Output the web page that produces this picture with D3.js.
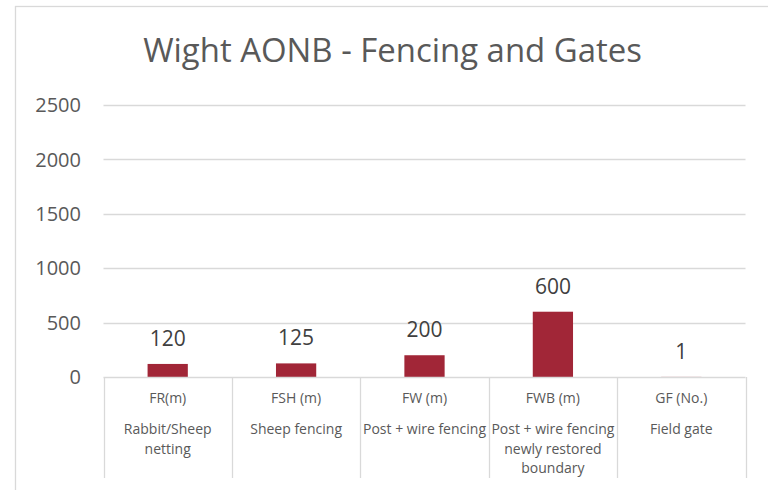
<!DOCTYPE html>
<html><head><meta charset="utf-8">
<script src="https://cdn.jsdelivr.net/npm/d3@7"></script>
<style>body{margin:0;background:#fff}svg{display:block}text{font-family:"Open Sans",sans-serif}</style>
</head><body><svg id="c" width="768" height="490"></svg>
<script>
const title = "Wight AONB - Fencing and Gates";
const codes = ["FR(m)", "FSH (m)", "FW (m)", "FWB (m)", "GF (No.)"];
const descriptions = [
  ["Rabbit/Sheep", "netting"],
  ["Sheep fencing"],
  ["Post + wire fencing"],
  ["Post + wire fencing", "newly restored", "boundary"],
  ["Field gate"]
];
const values = [120, 125, 200, 600, 1];
const yTicks = [0, 500, 1000, 1500, 2000, 2500];

const svg = d3.select("#c");
const grey = "#d9d9d9";
svg.append("rect").attr("x", 15.5).attr("y", 6.5).attr("width", 800).attr("height", 600)
  .attr("fill", "none").attr("stroke", grey).attr("stroke-width", 1.3);

const x = d3.scaleBand().domain(codes).range([103.5, 745.5]).paddingInner(0).paddingOuter(0);
const y = d3.scaleLinear().domain([0, 2500]).range([377, 105]);

const t = svg.append("text").attr("x", 392.5).attr("y", 62).attr("text-anchor", "middle")
  .attr("fill", "#595959").attr("font-size", 30).text(title);
const tw = t.node().getComputedTextLength();
t.attr("font-size", 30 * 499 / tw);

svg.append("g").selectAll("line").data(yTicks.slice(1)).join("line")
  .attr("x1", x.range()[0]).attr("x2", x.range()[1])
  .attr("y1", d => Math.round(y(d)) + 0.5).attr("y2", d => Math.round(y(d)) + 0.5)
  .attr("stroke", grey).attr("stroke-width", 1.3);

svg.append("g").selectAll("text").data(yTicks).join("text")
  .attr("x", 81).attr("y", d => y(d)).attr("dy", "0.36em").attr("text-anchor", "end")
  .attr("fill", "#595959").attr("font-size", 20).text(d => d);

const barW = x.bandwidth() / (1 + 2.19);
svg.append("g").selectAll("rect").data(values).join("rect")
  .attr("x", (d, i) => x(codes[i]) + (x.bandwidth() - barW) / 2)
  .attr("width", barW)
  .attr("y", d => y(d)).attr("height", d => y(0) - y(d))
  .attr("fill", "#a12637");

svg.append("g").selectAll("text").data(values).join("text")
  .attr("x", (d, i) => x(codes[i]) + x.bandwidth() / 2)
  .attr("y", d => y(d) - 18).attr("text-anchor", "middle")
  .attr("fill", "#404040").attr("font-size", 21).text(d => d);

svg.append("line").attr("x1", x.range()[0]).attr("x2", x.range()[1])
  .attr("y1", 377.5).attr("y2", 377.5).attr("stroke", grey).attr("stroke-width", 1.3);
const bounds = codes.map(c => x(c)).concat([x.range()[1]]);
svg.append("g").selectAll("line").data(bounds).join("line")
  .attr("x1", d => Math.round(d) + 0.5).attr("x2", d => Math.round(d) + 0.5)
  .attr("y1", 377).attr("y2", 478).attr("stroke", grey).attr("stroke-width", 1.3);

const cg = svg.append("g").selectAll("g").data(codes).join("g")
  .attr("transform", c => `translate(${x(c) + x.bandwidth() / 2},0)`);
cg.append("text").attr("y", 403).attr("text-anchor", "middle").attr("fill", "#595959")
  .attr("font-size", 14).text(c => c);
cg.each(function(c, i) {
  d3.select(this).selectAll("text.d").data(descriptions[i]).join("text").attr("class", "d")
    .attr("y", (d, j) => 434 + j * 19.5).attr("text-anchor", "middle").attr("fill", "#595959")
    .attr("font-size", 14).text(d => d);
});
</script></body></html>
